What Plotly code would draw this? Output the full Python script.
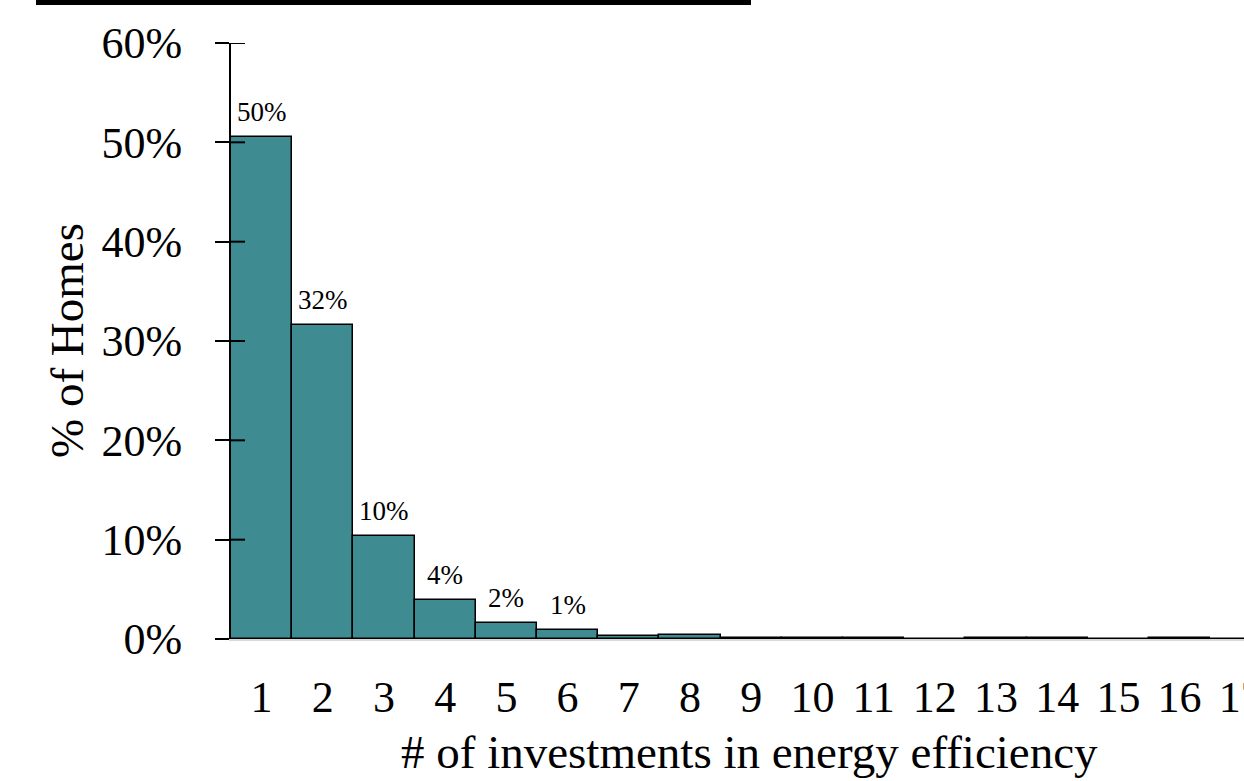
import plotly.graph_objects as go

# Number of energy-efficiency investments per home and share of homes (%)
investments = list(range(1, 18))
share_pct = [50.5, 31.6, 10.4, 3.9, 1.6, 0.9, 0.27, 0.4, 0.1, 0.1, 0.1, 0.0, 0.1, 0.1, 0.0, 0.1, 0.0]
y_ticks = [0, 10, 20, 30, 40, 50, 60]

W, H = 1244, 781
L, R, T, B = 231, 0, 43, 142
plot_w = W - L - R
plot_h = H - T - B
unit_px = 61.2  # horizontal pixels per category

SERIF = "Liberation Serif, Times New Roman, serif"

fig = go.Figure()
fig.add_trace(go.Bar(
    x=investments,
    y=share_pct,
    width=1.0,
    marker=dict(color="#3E8B91", line=dict(color="black", width=1.5)),
    cliponaxis=False,
    hoverinfo="skip",
))

# value labels above the larger bars
for xi, v in zip(investments, share_pct):
    if v >= 0.5:
        fig.add_annotation(
            x=xi, y=v, xref="x", yref="y",
            text=f"{round(v)}%", showarrow=False,
            xanchor="center", yanchor="bottom", yshift=8,
            font=dict(family=SERIF, size=27, color="black"),
        )

x_max = 0.5 + plot_w / unit_px

fig.update_layout(
    width=W, height=H,
    margin=dict(l=L, r=R, t=T, b=B, pad=0, autoexpand=False),
    plot_bgcolor="white", paper_bgcolor="white",
    bargap=0,
    showlegend=False,
    font=dict(family=SERIF, color="black"),
    xaxis=dict(
        range=[0.5, x_max],
        tickmode="array", tickvals=investments, ticktext=[str(i) for i in investments],
        tickfont=dict(family=SERIF, size=44, color="black"),
        ticks="", showgrid=False, zeroline=False,
        showline=True, linecolor="#D9D9D9", linewidth=2,
        ticklabelstandoff=18,
        ticklabeloverflow="allow",
        automargin=False,
    ),
    yaxis=dict(
        range=[0, 60],
        tickmode="array", tickvals=y_ticks, ticktext=[f"{v}%" for v in y_ticks],
        tickfont=dict(family=SERIF, size=44, color="black"),
        ticks="outside", ticklen=14, tickwidth=2, tickcolor="black",
        showgrid=False, zeroline=False,
        showline=True, linecolor="black", linewidth=2,
        ticklabelstandoff=24,
        automargin=False,
    ),
)

# inner half of the y-axis tick marks (ticks cross the axis line)
for v in y_ticks:
    fig.add_shape(
        type="line", xref="paper", yref="y",
        x0=0, x1=14 / plot_w, y0=v, y1=v,
        line=dict(color="black", width=2), layer="above",
    )

# axis titles
fig.add_annotation(
    text="# of investments in energy efficiency",
    xref="paper", yref="paper",
    x=(749 - L) / plot_w, y=-(752 - (H - B)) / plot_h,
    xanchor="center", yanchor="middle", showarrow=False,
    font=dict(family=SERIF, size=47, color="black"),
)
fig.add_annotation(
    text="% of Homes",
    xref="paper", yref="paper",
    x=(67 - L) / plot_w, y=0.5,
    xanchor="center", yanchor="middle", textangle=-90, showarrow=False,
    font=dict(family=SERIF, size=47, color="black"),
)

# heading rule along the top edge
fig.add_shape(
    type="rect", xref="paper", yref="paper",
    x0=(36 - L) / plot_w, x1=(751 - L) / plot_w,
    y0=((H - B) - 5) / plot_h, y1=((H - B) + 2) / plot_h,
    fillcolor="black", line=dict(width=0), layer="above",
)

fig.write_html("out.html")
